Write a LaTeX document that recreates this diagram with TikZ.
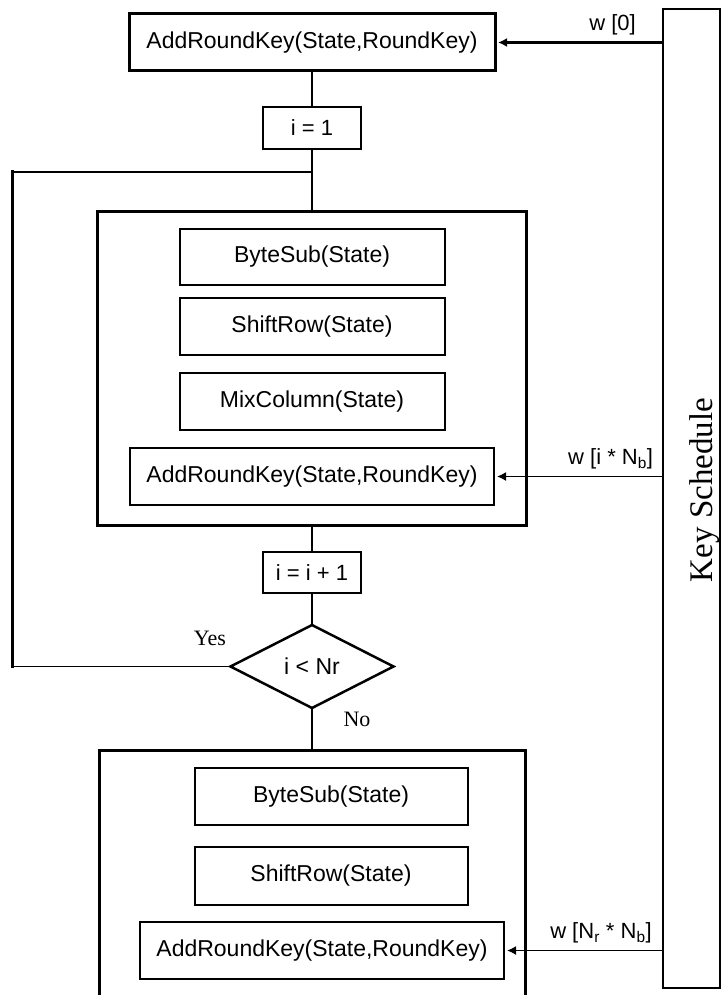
\documentclass[tikz,border=0pt]{standalone}
\usepackage{fontspec}
\setmainfont{Liberation Sans}
\newfontfamily\keyfont{Liberation Serif}
\usepackage{tikz}
\usetikzlibrary{arrows.meta}
\usetikzlibrary{shapes.geometric}
\usetikzlibrary{positioning}

\newcommand{\boxfont}{\fontsize{23}{27}\selectfont}
\newcommand{\labfont}{\fontsize{22}{26}\selectfont}

\begin{document}
\begin{tikzpicture}[x=1pt, y=-1pt, >={Latex[length=9pt,width=9pt]}, outer sep=0pt, inner sep=0pt, font=\boxfont]
            \tikzstyle{thickbox}=[draw, rectangle, line width=3pt]
            \tikzstyle{opbox}=[draw, rectangle, line width=2pt, minimum width=265pt, minimum height=57pt]
            \tikzstyle{keybox}=[draw, rectangle, line width=1.5pt, minimum width=364pt, minimum height=57pt]
            \tikzstyle{stepbox}=[draw, rectangle, line width=1.8pt, minimum width=98pt, font=\labfont]
            \tikzstyle{decision}=[draw, diamond, aspect=2, line width=2.5pt, minimum width=163pt, minimum height=83pt]
            \tikzstyle{flowline}=[line width=1.5pt]
            \tikzstyle{keyarrow}=[->, shorten >=3pt, line width=1.5pt]
            \tikzstyle{wlabel}=[above=7pt, font=\labfont]
            \tikzstyle{answer}=[font={\keyfont\labfont}]

            \useasboundingbox (0,0) rectangle (724,995);
            \clip (0,0) rectangle (724,995);

            \node[thickbox, minimum width=366pt, minimum height=57pt] (topark) at (312,42.5) {AddRoundKey(State,RoundKey)};
            \node[stepbox, minimum height=42pt] (ione) [below=36pt of topark] {i = 1};
            \node[thickbox, minimum width=429pt, minimum height=314pt] (round) [below=62pt of ione] {};
            \node[opbox, minimum height=56pt] (bytesub) [below=18pt of round.north] {ByteSub(State)};
            \node[opbox] (shiftrow) [below=13pt of bytesub] {ShiftRow(State)};
            \node[opbox] (mixcol) [below=18pt of shiftrow] {MixColumn(State)};
            \node[keybox] (arkone) [below=18pt of mixcol] {AddRoundKey(State,RoundKey)};
            \node[stepbox, minimum height=41pt] (iinc) [below=27pt of round] {i = i + 1};
            \node[decision] (test) [below=32pt of iinc] {i < Nr};
            \node[thickbox, minimum width=426pt, minimum height=300pt] (final) [below=42pt of test] {};
            \node[opbox, minimum width=273pt] (bytesubtwo) [below=18pt of final.north, xshift=19pt] {ByteSub(State)};
            \node[opbox, minimum width=273pt, minimum height=58pt] (shiftrowtwo) [below=22pt of bytesubtwo] {ShiftRow(State)};
            \node[keybox] (arktwo) [below=17pt of shiftrowtwo, xshift=-9pt] {AddRoundKey(State,RoundKey)};

            \node[draw, line width=2pt, minimum width=57pt, minimum height=979pt] (keysched) at (691.5,498.5) {};
            \node[rotate=90, font={\keyfont\fontsize{33}{38}\selectfont}] (keylabel) at (705,490) {Key Schedule};

            \node[answer] (yes) at (210,638) {Yes};
            \node[answer] (no) at (357,719) {No};
            \coordinate (loopcorner) at (12,172);

            \draw[flowline] (topark) -- (ione);
            \draw[flowline] (ione) -- (round);
            \draw[flowline] (round) -- (iinc);
            \draw[flowline] (iinc) -- (test);
            \draw[flowline] (test) -- (final);
            \draw[flowline] (test.west) -- (test.west -| loopcorner);
            \draw[line width=3pt, line cap=rect] (test.west -| loopcorner) -- (loopcorner);
            \draw[flowline] (loopcorner) -- (loopcorner -| ione.south);

            \path (keysched.west |- topark) edge [keyarrow, line width=3pt] node[wlabel, pos=0.3] {w [0]} (topark.east)
                (keysched.west |- arkone) edge [keyarrow] node[wlabel, pos=0.31] {w [i * N\textsubscript{b}]} (arkone.east)
                (keysched.west |- arktwo) edge [keyarrow] node[wlabel, pos=0.39] {w [N\textsubscript{r} * N\textsubscript{b}]} (arktwo.east)
            ;
        \end{tikzpicture}
\end{document}
